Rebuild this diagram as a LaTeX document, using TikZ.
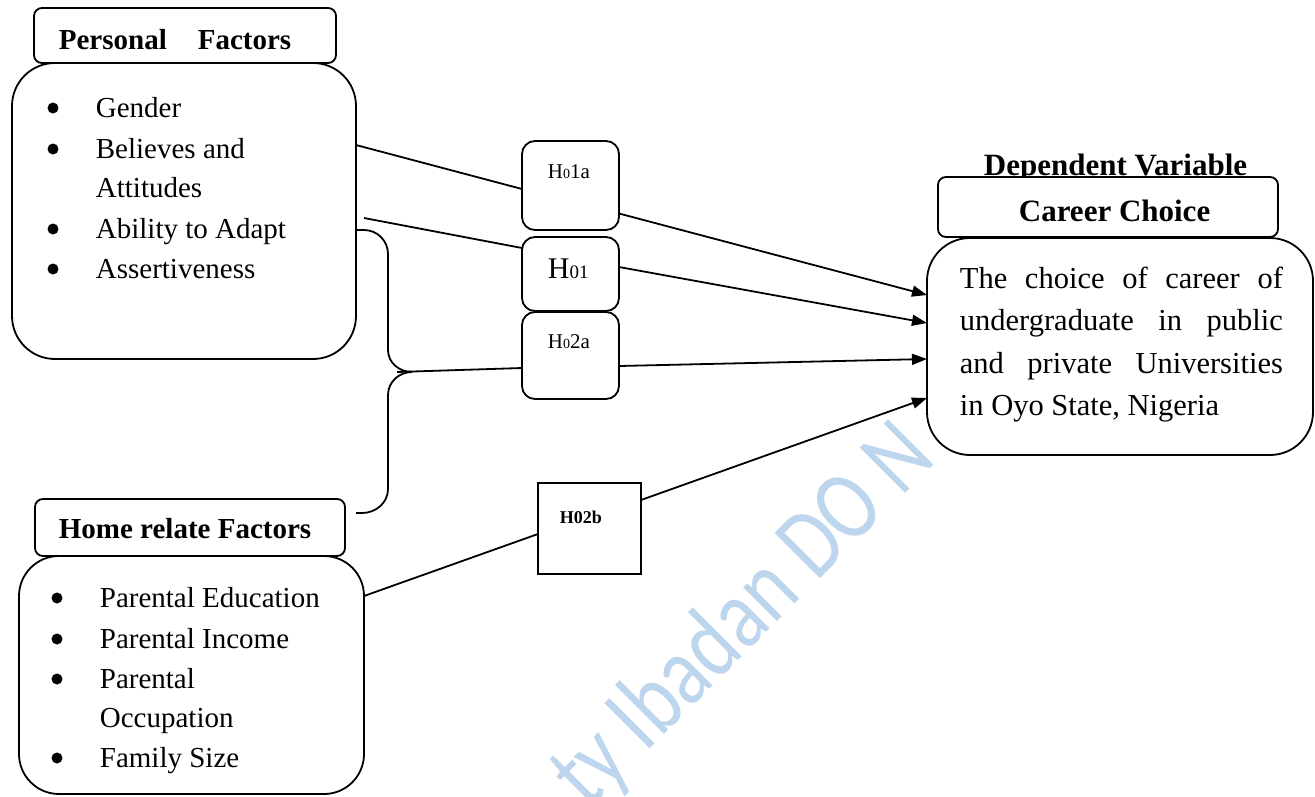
\documentclass[tikz,border=0pt]{standalone}
\usepackage{fontspec}
\setmainfont{Liberation Serif}
\newfontfamily\wmfont{Carlito}
\usetikzlibrary{arrows.meta}
\hbadness=10000
\definecolor{wmblue}{RGB}{190,214,237}
\begin{document}
\begin{tikzpicture}[x=1pt,y=-1pt,line width=1.8pt,
  box/.style={draw,fill=white,rounded corners=#1,anchor=north west,inner sep=0pt,outer sep=0pt},
  sqbox/.style={draw,fill=white,anchor=north west,inner sep=0pt,outer sep=0pt},
  lst/.style={inner sep=0pt,anchor=base west,font=\fontsize{29}{35}\selectfont},
  hdr/.style={inner sep=0pt,anchor=base west,font=\fontsize{29}{35}\selectfont\bfseries},
  bul/.style={circle,fill=black,inner sep=0pt,minimum size=11pt},
  arr/.style={-{Triangle[length=15pt,width=11pt]}},
  wm/.style={inner sep=0pt,anchor=base west,text=wmblue,rotate=45,xscale=0.8,font=\wmfont\fontsize{100}{100}\selectfont}
]
\useasboundingbox (0,0) rectangle (1315,796);

% watermark
\begin{scope}
\clip (0,0) rectangle (1315,796);
\node[wm] (wmark) at (588,811) {ty Ibadan DO N};
\end{scope}

% Personal factors
\node[box=43pt,minimum width=344pt,minimum height=296pt] (pb) at (12,63) {};
\node[box=8pt,minimum width=302pt,minimum height=55pt] (ph) at (34,8) {};
\node[hdr] (pht) at (58,49) {Personal\hspace{31pt}Factors};
\node[bul] (pb1) at (53,108) {};
\node[bul] (pb2) at (53,149) {};
\node[bul] (pb3) at (53,229) {};
\node[bul] (pb4) at (53,269) {};
\node[lst] (pl1) at (95,117) {Gender};
\node[lst] (pl2) at (95,158) {Believes and};
\node[lst] (pl3) at (95,197) {Attitudes};
\node[lst] (pl4) at (95,238) {Ability to Adapt};
\node[lst] (pl5) at (95,278) {Assertiveness};

% Home related factors
\node[box=40pt,minimum width=345pt,minimum height=238pt] (hb) at (19,556) {};
\node[box=8pt,minimum width=310pt,minimum height=57pt] (hh) at (35,499) {};
\node[hdr] (hht) at (58,538) {Home relate Factors};
\node[bul] (hb1) at (57,598) {};
\node[bul] (hb2) at (57,639) {};
\node[bul] (hb3) at (57,679) {};
\node[bul] (hb4) at (57,758) {};
\node[lst] (hl1) at (99,607) {Parental Education};
\node[lst] (hl2) at (99,648) {Parental Income};
\node[lst] (hl3) at (99,688) {Parental};
\node[lst] (hl4) at (99,727) {Occupation};
\node[lst] (hl5) at (99,767) {Family Size};

% Dependent variable
\node[inner sep=0pt,anchor=base west,font=\fontsize{31}{35}\selectfont\bfseries] (dv) at (983,175) {Dependent Variable};
\node[box=43pt,minimum width=386pt,minimum height=217pt] (cb) at (927,238) {};
\node[box=8pt,minimum width=340pt,minimum height=60pt] (ch) at (938,177) {};
\node[inner sep=0pt,anchor=base west,font=\fontsize{31}{35}\selectfont\bfseries] (cht) at (1018,221) {Career Choice};
\node[inner sep=0pt,anchor=north west,text width=323pt,align=justify,font=\fontsize{30.5}{42.5}\selectfont] (ct) at (959,266)
  {The choice of career of\linebreak undergraduate in public\linebreak and private Universities\linebreak in Oyo State, Nigeria};

% Hypothesis boxes
\node[box=13pt,minimum width=97pt,minimum height=89pt] (h1a) at (522,141) {};
\node[box=13pt,minimum width=97pt,minimum height=74pt] (h01) at (522,237) {};
\node[box=13pt,minimum width=97pt,minimum height=87pt] (h2a) at (522,312) {};
\node[sqbox,minimum width=103pt,minimum height=91pt] (h2b) at (538,483) {};
\node[inner sep=0pt,anchor=base west,font=\fontsize{21}{24}\selectfont] (h1at) at (547,178) {H{\fontsize{14}{14}\selectfont 0}1a};
\node[inner sep=0pt,anchor=base west,font=\fontsize{30}{34}\selectfont] (h01t) at (547,278) {H{\fontsize{19}{19}\selectfont 01}};
\node[inner sep=0pt,anchor=base west,font=\fontsize{21}{24}\selectfont] (h2at) at (547,348) {H{\fontsize{14}{14}\selectfont 0}2a};
\node[inner sep=0pt,anchor=base west,font=\fontsize{18}{20}\selectfont\bfseries] (h2bt) at (559,523) {H02b};

% connectors
\coordinate (ms) at (397,372);
\draw ([yshift=66pt]pb.east) -- ([yshift=-3.5pt]h1a.west);
\draw[arr] ([yshift=-28pt]h1a.east) -- ([yshift=51.5pt]cb.west);
\draw ([xshift=8pt,yshift=-7pt]pb.east) -- ([yshift=26pt]h01.west);
\draw[arr] ([yshift=7pt]h01.east) -- ([yshift=23.5pt]cb.west);
\draw ([yshift=-19pt]pb.east) -- ++(8,0) to[out=0,in=90] (388,254) -- (388,350) to[out=-90,in=180] (412,372);
\draw ([xshift=11pt,yshift=14.5pt]hh.east) -- ++(6,0) to[out=0,in=-90] (388,489) -- (388,395) to[out=90,in=180] (412,372);
\draw (ms) -- ([yshift=-12.5pt]h2a.west);
\draw[arr] ([yshift=-10.5pt]h2a.east) -- ([yshift=-12.5pt]cb.west);
\draw ([yshift=79pt]hb.east) -- ([yshift=-5.5pt]h2b.west);
\draw[arr] ([yshift=28.5pt]h2b.east) -- ([yshift=-51.5pt]cb.west);
\end{tikzpicture}
\end{document}
